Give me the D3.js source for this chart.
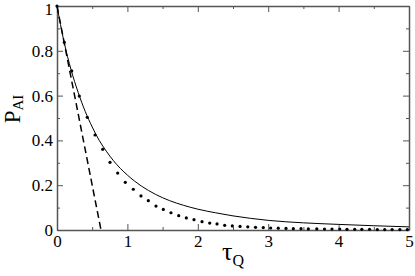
<!DOCTYPE html>
<html>
<head>
<script src="https://d3js.org/d3.v7.min.js"></script>
<style>
  body { margin: 0; background: #fff; }
</style>
</head>
<body>
<div id="chartContainer"></div>
<script type="text/javascript">
// data
var solidX = [0, 0.1, 0.2, 0.3, 0.4, 0.5, 0.6, 0.7, 0.8, 0.9, 1.0, 1.2, 1.4, 1.6, 1.8, 2.0, 2.25, 2.5, 2.75, 3.0, 3.5, 4.0, 4.5, 5.0];
var solidY = [1, 0.84, 0.715, 0.615, 0.53, 0.46, 0.40, 0.352, 0.31, 0.275, 0.245, 0.196, 0.159, 0.131, 0.110, 0.093, 0.077, 0.063, 0.052, 0.043, 0.032, 0.025, 0.019, 0.014];

var dashX = [0, 0.625];
var dashY = [1, 0];

var dotX = [0, 0.104, 0.209, 0.317, 0.430, 0.540, 0.649, 0.753, 0.862, 0.970, 1.084, 1.193, 1.297, 1.406, 1.510, 1.619, 1.729, 1.837, 1.946, 2.060, 2.169, 2.273, 2.382,
            2.49, 2.60, 2.71, 2.82, 2.93, 3.035, 3.143, 3.253, 3.357, 3.466, 3.57, 3.69, 3.80, 3.906, 4.016, 4.119, 4.229, 4.33, 4.44, 4.55, 4.655, 4.76, 4.87, 4.976];
var dotY = [1, 0.838, 0.710, 0.598, 0.503, 0.424, 0.360, 0.302, 0.254, 0.213, 0.182, 0.152, 0.131, 0.107, 0.092, 0.077, 0.064, 0.054, 0.046, 0.037, 0.031, 0.027, 0.021,
            0.018, 0.016, 0.014, 0.012, 0.011, 0.009, 0.008, 0.007, 0.006, 0.006, 0.005, 0.005, 0.004, 0.004, 0.004, 0.003, 0.003, 0.003, 0.003, 0.002, 0.002, 0.002, 0.002, 0.002];

var xMajor = [0, 1, 2, 3, 4, 5];
var xMajorLabels = ["0", "1", "2", "3", "4", "5"];
var xMinor = [0.5, 1.5, 2.5, 3.5, 4.5];
var yMajor = [0, 0.2, 0.4, 0.6, 0.8, 1];
var yMajorLabels = ["0", "0.2", "0.4", "0.6", "0.8", "1"];
var yMinor = [0.1, 0.3, 0.5, 0.7, 0.9];

var serif = "'Liberation Serif', 'Times New Roman', 'DejaVu Serif', serif";

var W = 415, H = 276;
var margin = {top: 6, right: 6, bottom: 46, left: 57};
var w = W - margin.left - margin.right, h = H - margin.top - margin.bottom;

var svg = d3.select("#chartContainer").append("svg")
    .attr("width", W).attr("height", H);
var g = svg.append("g").attr("transform", "translate(" + margin.left + "," + margin.top + ")");

var x = d3.scaleLinear().domain([0, 5]).range([0, w]);
var y = d3.scaleLinear().domain([0, 1]).range([h, 0]);

var axisColor = "#555";

// draws one side of the frame with inward ticks
function frameAxis(axisFn, scale, pos, major, labels, minor, pad)
{
    var a = axisFn(scale).tickValues(major).tickSizeInner(-6).tickSizeOuter(0).tickPadding(pad)
        .tickFormat(labels ? function (d, i) { return labels[i]; } : "");
    var ag = g.append("g").attr("transform", pos).call(a);
    var m = axisFn(scale).tickValues(minor).tickSizeInner(-3).tickSizeOuter(0).tickFormat("");
    var mg = g.append("g").attr("transform", pos).call(m);
    mg.select(".domain").remove();
    [ag, mg].forEach(function (s) {
        s.attr("font-family", serif);
        s.selectAll("line").attr("stroke", axisColor).attr("stroke-width", 1);
        s.select(".domain").attr("stroke", axisColor).attr("stroke-width", 1.5);
    });
    return ag;
}

var xb = frameAxis(d3.axisBottom, x, "translate(0," + h + ")", xMajor, xMajorLabels, xMinor, 5);
xb.selectAll("text").style("font-family", serif).style("font-size", "17px").attr("fill", "#000");
frameAxis(d3.axisTop, x, "translate(0,0)", xMajor, null, xMinor, 3);
var yl = frameAxis(d3.axisLeft, y, "translate(0,0)", yMajor, yMajorLabels, yMinor, 4);
yl.selectAll("text").style("font-family", serif).style("font-size", "17px").attr("fill", "#000");
// keep the top label inside the picture
yl.selectAll("text").filter(function (d) { return d === 1; }).attr("dy", "0.5em");
frameAxis(d3.axisRight, y, "translate(" + w + ",0)", yMajor, null, yMinor, 3);

// solid curve
var solid = solidX.map(function (d, i) { return [d, solidY[i]]; });
g.append("path")
    .datum(solid)
    .attr("fill", "none").attr("stroke", "#000").attr("stroke-width", 1)
    .attr("d", d3.line().x(function (d) { return x(d[0]); }).y(function (d) { return y(d[1]); }).curve(d3.curveMonotoneX));

// dashed line
var dash = dashX.map(function (d, i) { return [d, dashY[i]]; });
g.append("path")
    .datum(dash)
    .attr("fill", "none").attr("stroke", "#000").attr("stroke-width", 1.5)
    .attr("stroke-dasharray", "7,4")
    .attr("d", d3.line().x(function (d) { return x(d[0]); }).y(function (d) { return y(d[1]); }));

// dots
g.selectAll("circle.dot")
    .data(dotX.map(function (d, i) { return [d, dotY[i]]; }))
    .enter().append("circle")
    .attr("class", "dot")
    .attr("cx", function (d) { return x(d[0]); })
    .attr("cy", function (d) { return y(d[1]); })
    .attr("r", 1.6)
    .attr("fill", "#000");

// axis titles
var xt = svg.append("text")
    .attr("x", margin.left + w / 2)
    .attr("y", 260)
    .attr("text-anchor", "middle")
    .style("font-family", serif)
    .style("font-size", "26px");
xt.append("tspan").text("\u03c4");
xt.append("tspan").attr("dy", 6).style("font-size", "16px").text("Q");

var yt = svg.append("text")
    .attr("transform", "translate(20,109) rotate(-90)")
    .attr("text-anchor", "middle")
    .style("font-family", serif)
    .style("font-size", "23px");
yt.append("tspan").text("P");
yt.append("tspan").attr("dy", 3).style("font-size", "15px").text("AI");
</script>
</body>
</html>
